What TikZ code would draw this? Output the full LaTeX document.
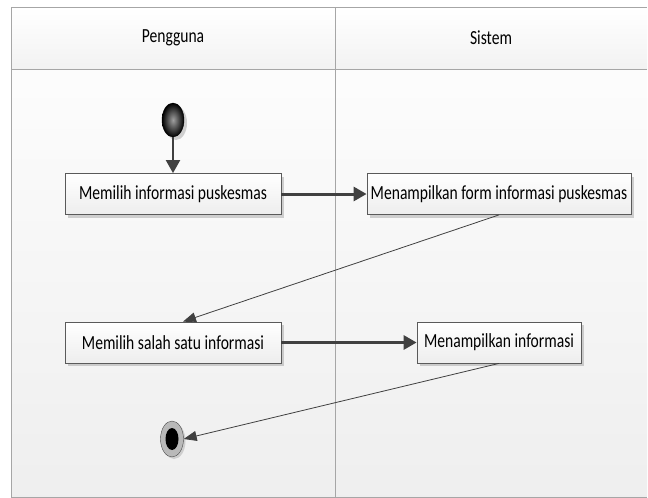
\documentclass[tikz,border=0pt]{standalone}
\usepackage{fontspec}
\setmainfont{Carlito}[FakeStretch=0.78]
\usetikzlibrary{arrows.meta,shadows,positioning,shapes.geometric}
\definecolor{linegray}{HTML}{404040}
\definecolor{boxborder}{HTML}{5A5A5A}

\begin{document}
\begin{tikzpicture}[x=1pt,y=-1pt,
    font=\fontsize{20}{22}\selectfont,
    lane/.style={draw=gray!70, line width=0.8pt},
    action/.style={draw=boxborder, line width=0.8pt, top color=white, bottom color=gray!14,
        drop shadow={shadow xshift=3pt, shadow yshift=-3pt, fill=gray, opacity=0.35},
        minimum height=41pt, inner sep=0pt},
    flow/.style={draw=linegray, line width=3pt, -{Triangle[length=13pt,width=14pt]}},
    back/.style={draw=linegray, line width=0.8pt, -{Triangle[length=13pt,width=10pt]}}]
    \useasboundingbox (0,0) rectangle (648,498);

    % Swimlanes
    \fill[top color=gray!2, bottom color=gray!13] (11,69) rectangle (647,497);
    \fill[top color=white, bottom color=gray!10] (11,7) rectangle (647,69);
    \draw[lane] (11,497) -- (11,7) -- (647,7);
    \draw[lane] (11,69) -- (647,69);
    \draw[lane] (11,497) -- (647,497);
    \draw[lane] (335,7) -- (335,497);
    \node (pengguna) at (173,38) {Pengguna};
    \node (sistem) at (491,38) {Sistem};

    % Start and end
    \node[ellipse, minimum width=22pt, minimum height=34pt, inner sep=0pt,
        inner color=gray!75, outer color=black, draw=black,
        drop shadow={shadow xshift=3pt, shadow yshift=-3pt, fill=gray, opacity=0.35}]
        (start) at (173,120) {};
    \node[ellipse, minimum width=23pt, minimum height=36pt, inner sep=0pt,
        fill=gray!55, draw=gray!60!black,
        drop shadow={shadow xshift=2pt, shadow yshift=-2pt, fill=gray, opacity=0.3}]
        (finish) at (172,439) {};
    \fill (finish) ellipse (6.5 and 11);

    % Actions
    \node[action, minimum width=216pt] (pilihInfo) at (173,194) {Memilih informasi puskesmas};
    \node[action, minimum width=264pt] (tampilForm) at (499,194) {Menampilkan form informasi puskesmas};
    \node[action, minimum width=216pt] (pilihSalah) at (173,342.5) {Memilih salah satu informasi};
    \node[action, minimum width=164pt] (tampilInfo) at (499,342.5) {Menampilkan informasi};

    % Arrows
    \draw[flow, line width=2pt] (start) -- (pilihInfo);
    \draw[flow] (pilihInfo) -- (tampilForm);
    \draw[back] (tampilForm.south) -- ([xshift=10pt]pilihSalah.north);
    \draw[flow] (pilihSalah) -- (tampilInfo);
    \draw[back] (tampilInfo.south) -- (finish.east);
\end{tikzpicture}
\end{document}
